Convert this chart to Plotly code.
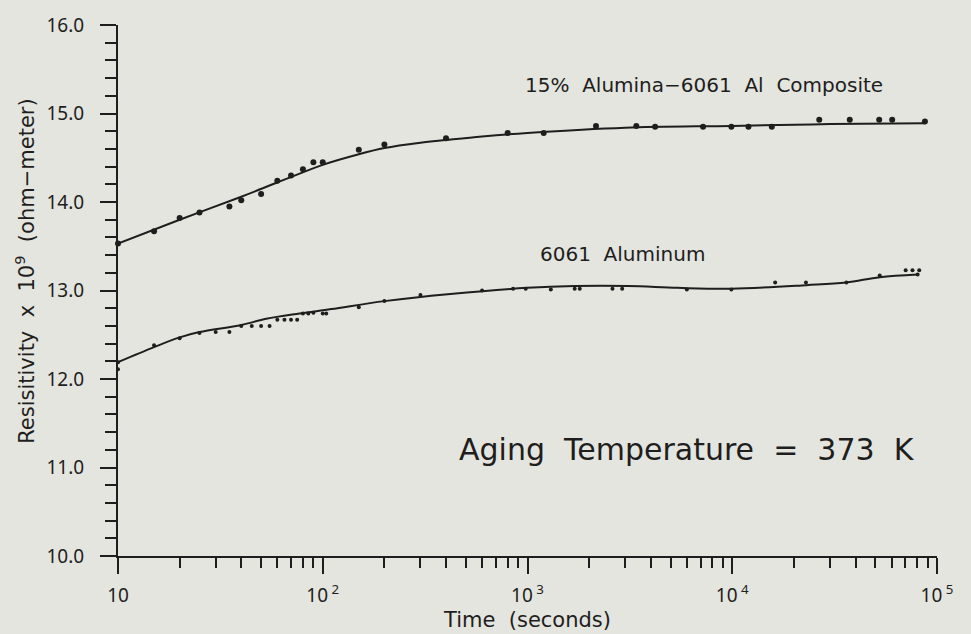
import math
import plotly.graph_objects as go

# ---- data ----
comp_t = [10, 15, 20, 25, 35, 40, 50, 60, 70, 80, 90, 100, 150, 200, 400, 800, 1200,
          2160, 3400, 4200, 7200, 9900, 12000, 15600, 26600, 37500, 52200, 60400, 87300]
comp_v = [13.53, 13.67, 13.82, 13.88, 13.95, 14.02, 14.09, 14.24, 14.30, 14.37, 14.45, 14.45,
          14.59, 14.65, 14.72, 14.78, 14.78, 14.86, 14.86, 14.85, 14.85, 14.85, 14.85, 14.85,
          14.93, 14.93, 14.93, 14.93, 14.91]

comp_fit_t = [10, 20, 40, 60, 100, 150, 200, 300, 400, 600, 1000, 3000, 10000, 30000, 87300]
comp_fit_v = [13.53, 13.80, 14.06, 14.22, 14.42, 14.54, 14.61, 14.67, 14.70, 14.74, 14.78,
              14.84, 14.86, 14.88, 14.89]

al_t = [10, 10, 15, 20, 25, 30, 35, 40, 45, 50, 55, 60, 65, 70, 75, 80, 85, 90, 100, 104,
        150, 200, 300, 600, 850, 980, 1300, 1700, 1800, 2600, 2900, 6000, 9900, 16200,
        22900, 36100, 52500, 70300, 75900, 81900, 80400]
al_v = [12.19, 12.11, 12.38, 12.46, 12.52, 12.53, 12.53, 12.60, 12.60, 12.60, 12.60, 12.67,
        12.67, 12.67, 12.67, 12.74, 12.74, 12.75, 12.74, 12.74, 12.81, 12.88, 12.95, 13.00,
        13.02, 13.02, 13.01, 13.02, 13.02, 13.02, 13.02, 13.01, 13.01, 13.09, 13.09, 13.09,
        13.17, 13.23, 13.23, 13.23, 13.18]

al_fit_t = [10, 15, 20, 25, 40, 53, 77, 110, 200, 420, 1000, 1700, 3100, 5400, 9900, 23000,
            36000, 52500, 80400]
al_fit_v = [12.19, 12.36, 12.47, 12.53, 12.61, 12.68, 12.74, 12.79, 12.88, 12.96, 13.03, 13.05,
            13.05, 13.03, 13.02, 13.06, 13.09, 13.15, 13.18]

x_tick_vals = [10, 100, 1000, 10000, 100000]
x_tick_text = ["10", "10<sup> 2</sup>", "10<sup> 3</sup>", "10<sup> 4</sup>", "10<sup> 5</sup>"]
x_minor_vals = [k * 10 ** d for d in range(1, 5) for k in range(2, 10)]

label_comp = "15%  Alumina\u22126061  Al  Composite"
label_al = "6061  Aluminum"
label_temp = "Aging  Temperature  =  373  K"
x_title = "Time  (seconds)"
y_title = "Resisitivity  x  10<sup>9</sup>  (ohm\u2212meter)"

INK = "#1e1e1e"
BG = "#e4e5de"
FONT = "DejaVu Sans"
TICKFONT = "Noto Sans"

fig = go.Figure()
fig.add_trace(go.Scatter(x=comp_fit_t, y=comp_fit_v, mode="lines",
                         line=dict(color=INK, width=2, shape="spline", smoothing=1.0),
                         hoverinfo="skip", showlegend=False, cliponaxis=False))
fig.add_trace(go.Scatter(x=al_fit_t, y=al_fit_v, mode="lines",
                         line=dict(color=INK, width=2, shape="spline", smoothing=1.0),
                         hoverinfo="skip", showlegend=False, cliponaxis=False))
fig.add_trace(go.Scatter(x=comp_t, y=comp_v, mode="markers",
                         marker=dict(color=INK, size=6), showlegend=False, cliponaxis=False))
fig.add_trace(go.Scatter(x=al_t, y=al_v, mode="markers",
                         marker=dict(color=INK, size=4), showlegend=False, cliponaxis=False))

fig.add_annotation(x=math.log10(7280), y=15.32, text=label_comp, showarrow=False,
                   font=dict(size=20, color=INK, family=FONT))
fig.add_annotation(x=math.log10(2925), y=13.41, text=label_al, showarrow=False,
                   font=dict(size=20, color=INK, family=FONT))
fig.add_annotation(x=math.log10(6010), y=11.20, text=label_temp, showarrow=False,
                   font=dict(size=30, color=INK, family=FONT))
fig.add_annotation(xref="paper", yref="paper", x=-0.1136, y=0.537, text=y_title,
                   textangle=-90, showarrow=False, xanchor="center", yanchor="middle",
                   font=dict(size=21, color=INK, family=FONT))

fig.update_layout(
    width=971, height=634,
    margin=dict(l=118, r=34, t=18, b=72),
    paper_bgcolor=BG, plot_bgcolor=BG,
    font=dict(family=FONT, color=INK, size=18),
    showlegend=False,
    xaxis=dict(
        type="log", range=[1, 5],
        tickvals=x_tick_vals, ticktext=x_tick_text,
        ticks="outside", ticklen=16, tickwidth=2, tickcolor=INK,
        showline=True, linewidth=2, linecolor=INK, mirror=False,
        showgrid=False, zeroline=False,
        tickfont=dict(size=19, color=INK, family=TICKFONT),
        ticklabelstandoff=5,
        minor=dict(tickvals=x_minor_vals, ticks="outside", ticklen=10, tickwidth=2,
                   tickcolor=INK, showgrid=False),
        title=dict(text=x_title, font=dict(size=21, color=INK, family=FONT), standoff=0),
    ),
    yaxis=dict(
        range=[10, 16], dtick=1, tick0=10, tickformat=".1f",
        ticks="outside", ticklen=16, tickwidth=2, tickcolor=INK,
        showline=True, linewidth=2, linecolor=INK, mirror=False,
        showgrid=False, zeroline=False,
        tickfont=dict(size=19, color=INK, family=TICKFONT),
        ticklabelstandoff=12,
        minor=dict(dtick=0.2, ticks="outside", ticklen=11, tickwidth=2,
                   tickcolor=INK, showgrid=False),
    ),
)

fig.write_html("out.html")
